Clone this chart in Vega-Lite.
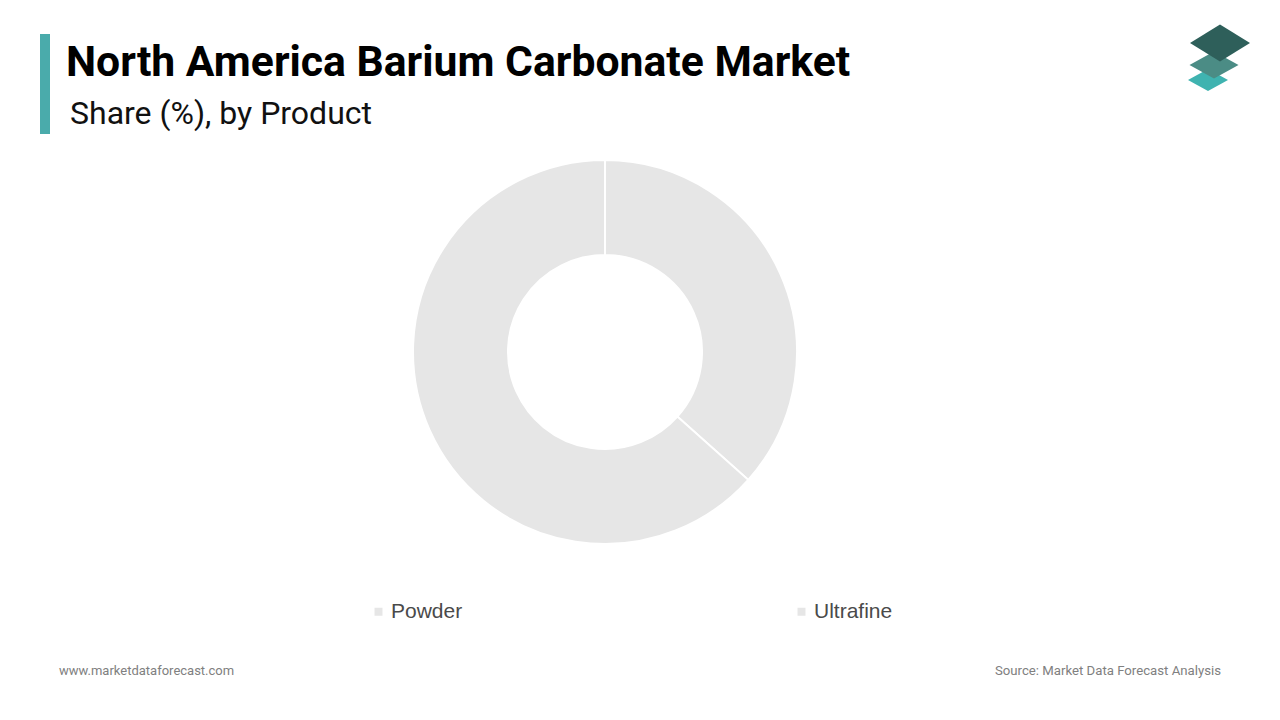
{
  "$schema": "https://vega.github.io/schema/vega-lite/v6.json",
  "width": 1280,
  "height": 720,
  "padding": 0,
  "autosize": {"type": "fit", "contains": "padding"},
  "background": "white",
  "config": {"view": {"stroke": null}},
  "layer": [
    {
      "data": {"values": [
        {"Product": "Powder", "share": 36.6},
        {"Product": "Ultrafine", "share": 63.4}
      ]},
      "mark": {"type": "arc", "radius": 192, "radius2": 97, "stroke": "white", "strokeWidth": 2},
      "encoding": {
        "x": {"value": 605},
        "y": {"value": 352},
        "theta": {"field": "share", "type": "quantitative", "stack": true},
        "color": {
          "field": "Product",
          "type": "nominal",
          "scale": {"domain": ["Powder", "Ultrafine"], "range": ["#e6e6e6", "#e6e6e6"]},
          "legend": {
            "orient": "none",
            "legendX": 368,
            "legendY": 601,
            "direction": "horizontal",
            "title": null,
            "symbolType": "square",
            "symbolSize": 64,
            "symbolStrokeWidth": 0,
            "labelFont": "Liberation Sans",
            "labelFontSize": 21,
            "labelColor": "#4a4a4a",
            "labelOffset": 2,
            "columnPadding": 321,
            "gridAlign": "all"
          }
        }
      }
    },
    {
      "data": {"values": [{}]},
      "mark": {"type": "rect", "color": "#4aabab"},
      "encoding": {"x": {"value": 40}, "x2": {"value": 50}, "y": {"value": 34}, "y2": {"value": 134}}
    },
    {
      "data": {"values": [{}]},
      "mark": {"type": "text", "text": "North America Barium Carbonate Market", "font": "Roboto", "fontWeight": "bold", "fontSize": 42.7, "color": "#000000", "align": "left", "baseline": "alphabetic"},
      "encoding": {"x": {"value": 66}, "y": {"value": 76}}
    },
    {
      "data": {"values": [{}]},
      "mark": {"type": "text", "text": "Share (%), by Product", "font": "Roboto", "fontSize": 32, "color": "#111111", "align": "left", "baseline": "alphabetic"},
      "encoding": {"x": {"value": 70}, "y": {"value": 124}}
    },
    {
      "data": {"values": [{}]},
      "mark": {"type": "text", "text": "www.marketdataforecast.com", "font": "Roboto", "fontSize": 13, "color": "#808080", "align": "left", "baseline": "alphabetic"},
      "encoding": {"x": {"value": 59}, "y": {"value": 675}}
    },
    {
      "data": {"values": [{}]},
      "mark": {"type": "text", "text": "Source: Market Data Forecast Analysis", "font": "Roboto", "fontSize": 13.2, "color": "#808080", "align": "right", "baseline": "alphabetic"},
      "encoding": {"x": {"value": 1221}, "y": {"value": 675}}
    },
    {
      "data": {"values": [{}]},
      "mark": {"type": "point", "filled": true, "shape": "M0,-0.55L1,0L0,0.55L-1,0Z", "size": 1600, "color": "#3fb3b0", "opacity": 1},
      "encoding": {"x": {"value": 1208}, "y": {"value": 80}}
    },
    {
      "data": {"values": [{}]},
      "mark": {"type": "point", "filled": true, "shape": "M0,-0.55L1,0L0,0.55L-1,0Z", "size": 2400, "color": "#4b8c85", "opacity": 1},
      "encoding": {"x": {"value": 1214}, "y": {"value": 65}}
    },
    {
      "data": {"values": [{}]},
      "mark": {"type": "point", "filled": true, "shape": "M0,-0.62L1,0L0,0.62L-1,0Z", "size": 3600, "color": "#2e5f5a", "opacity": 1},
      "encoding": {"x": {"value": 1220}, "y": {"value": 43}}
    }
  ]
}
